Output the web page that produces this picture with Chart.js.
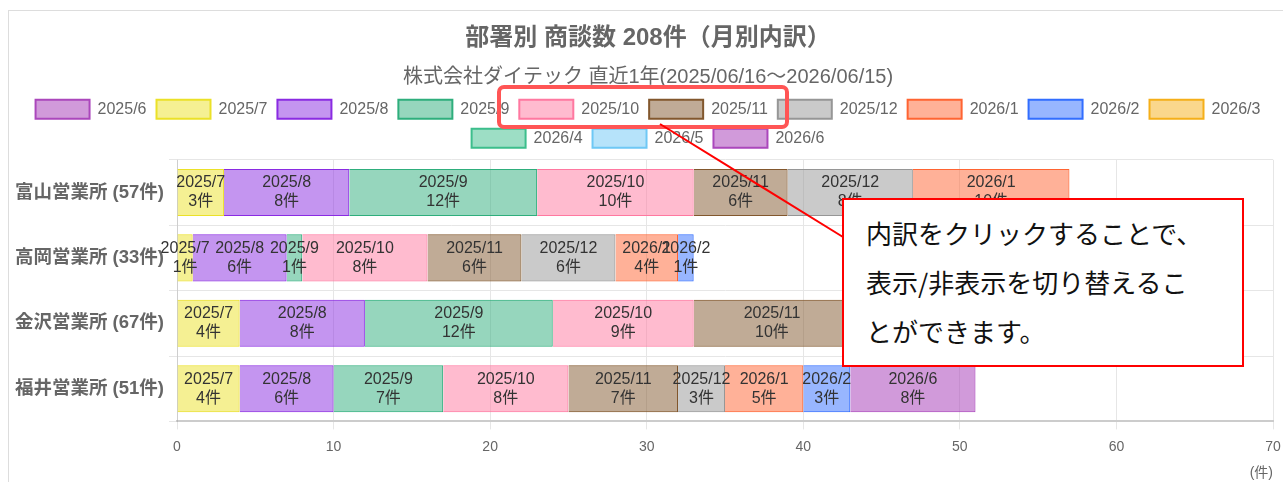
<!DOCTYPE html>
<html lang="ja">
<head>
    <meta charset="UTF-8">
    <title>部署別 商談数</title>
    <script src="https://cdn.jsdelivr.net/npm/chart.js"></script>
    <style>
        body {
            margin: 0;
            width: 1283px;
            height: 482px;
            overflow: hidden;
            background: #fff;
            position: relative;
            font-family: Arial, 'Noto Sans CJK JP', sans-serif;
        }
        .card {
            position: absolute;
            left: 8px;
            top: 10px;
            width: 1300px;
            height: 500px;
            border: 1px solid #ddd;
        }
        #salesChart {
            position: absolute;
            left: 9px;
            top: 11px;
        }
        /* 凡例の強調枠 */
        .mark {
            position: absolute;
            left: 497px;
            top: 85px;
            width: 284px;
            height: 36px;
            border: 4px solid #f55;
            border-radius: 7px;
        }
        .link {
            position: absolute;
            left: 0;
            top: 0;
        }
        .note {
            position: absolute;
            left: 842px;
            top: 198px;
            width: 376px;
            height: 157px;
            padding: 8px 0 0 22px;
            border: 2px solid #f00;
            background: #fff;
            font-family: 'Noto Sans CJK JP', sans-serif;
            font-size: 26px;
            line-height: 49px;
            color: #111;
            white-space: nowrap;
        }
    </style>
</head>
<body>

    <div class="card"></div>
    <canvas id="salesChart" width="1274" height="471"></canvas>

    <div class="mark"></div>
    <svg class="link" width="1283" height="482">
        <line x1="660" y1="124" x2="843" y2="237" stroke="#f00" stroke-width="2"/>
    </svg>
    <div class="note">内訳をクリックすることで、<br>表示/非表示を切り替えるこ<br>とができます。</div>

    <script>
        // 営業所
        const offices = ['富山営業所 (57件)', '高岡営業所 (33件)', '金沢営業所 (67件)', '福井営業所 (51件)'];
        const months = ['2025/6', '2025/7', '2025/8', '2025/9', '2025/10', '2025/11', '2025/12',
                        '2026/1', '2026/2', '2026/3', '2026/4', '2026/5', '2026/6'];

        // 月別件数 (2025/6 〜 2026/6)
        const toyama   = [0, 3, 8, 12, 10, 6, 8, 10, 0, 0, 0, 0, 0];
        const takaoka  = [0, 1, 6, 1, 8, 6, 6, 4, 1, 0, 0, 0, 0];
        const kanazawa = [0, 4, 8, 12, 9, 10, 7, 9, 3, 2, 0, 0, 3];
        const fukui    = [0, 4, 6, 7, 8, 7, 3, 5, 3, 0, 0, 0, 8];

        const fills = ['rgba(171,71,188,0.55)', 'rgba(235,225,40,0.5)', 'rgba(138,43,226,0.5)', 'rgba(46,174,124,0.5)',
                       'rgba(255,120,160,0.5)', 'rgba(130,87,45,0.5)', 'rgba(150,150,150,0.5)', 'rgba(255,100,50,0.5)',
                       'rgba(50,110,255,0.5)', 'rgba(245,175,25,0.5)', 'rgba(60,190,140,0.5)', 'rgba(110,200,245,0.5)',
                       'rgba(171,71,188,0.55)'];
        const borders = ['rgb(171,71,188)', 'rgb(235,225,40)', 'rgb(138,43,226)', 'rgb(46,174,124)',
                         'rgb(255,120,160)', 'rgb(130,87,45)', 'rgb(150,150,150)', 'rgb(255,100,50)',
                         'rgb(50,110,255)', 'rgb(245,175,25)', 'rgb(60,190,140)', 'rgb(110,200,245)',
                         'rgb(171,71,188)'];

        const FONT = "Arial, 'Noto Sans CJK JP', sans-serif";

        const datasets = months.map((m, i) => ({
            label: m,
            data: [toyama[i], takaoka[i], kanazawa[i], fukui[i]].map(v => v || null),
            backgroundColor: fills[i],
            borderColor: borders[i],
            borderWidth: 1
        }));

        // 各区間に「月 / 件数」を描く
        const segmentLabels = {
            id: 'segmentLabels',
            afterDatasetsDraw(chart) {
                const ctx = chart.ctx;
                ctx.save();
                ctx.font = '16px ' + FONT;
                ctx.fillStyle = '#333';
                ctx.textAlign = 'center';
                ctx.textBaseline = 'middle';
                chart.data.datasets.forEach((ds, i) => {
                    if (!chart.isDatasetVisible(i)) return;
                    chart.getDatasetMeta(i).data.forEach((bar, j) => {
                        const v = ds.data[j];
                        if (!v) return;
                        const cx = (bar.x + bar.base) / 2;
                        ctx.fillText(ds.label, cx, bar.y - 9.5);
                        ctx.fillText(v + '件', cx, bar.y + 9.5);
                    });
                });
                ctx.restore();
            }
        };

        // 凡例の下に少し余白を足す
        const legendGap = {
            id: 'legendGap',
            afterInit(chart) {
                const fit = chart.legend.fit;
                chart.legend.fit = function () {
                    fit.call(this);
                    this.height += 2;
                };
            }
        };

        new Chart(document.getElementById('salesChart'), {
            type: 'bar',
            data: { labels: offices, datasets: datasets },
            plugins: [segmentLabels, legendGap],
            options: {
                indexAxis: 'y',
                responsive: false,
                animation: false,
                layout: { padding: { left: 14, right: 10, top: 0, bottom: 0 } },
                scales: {
                    x: {
                        stacked: true,
                        min: 0,
                        max: 70,
                        ticks: { stepSize: 10, color: '#666', font: { size: 14, family: FONT }, padding: 9 },
                        grid: { color: '#e6e6e6' },
                        border: { color: '#ccc', width: 2 },
                        title: { display: true, text: '(件)', align: 'end', color: '#666', font: { size: 14, family: FONT }, padding: { top: 1, bottom: 0 } },
                        afterFit(scale) { scale.paddingRight = 0; }
                    },
                    y: {
                        stacked: true,
                        ticks: { color: '#666', font: { size: 18.5, weight: 'bold', family: FONT }, padding: 5 },
                        grid: { color: '#e6e6e6' },
                        afterFit(scale) {
                            scale.width = 154;
                            // ラベルが左余白にはみ出しても切らない
                            scale._computeLabelArea = () => undefined;
                        }
                    }
                },
                plugins: {
                    title: {
                        display: true,
                        text: '部署別 商談数 208件（月別内訳）',
                        color: '#666',
                        font: { size: 24, weight: 'bold', family: FONT },
                        padding: { top: 13, bottom: 7 }
                    },
                    subtitle: {
                        display: true,
                        text: '株式会社ダイテック 直近1年(2025/06/16～2026/06/15)',
                        color: '#666',
                        font: { size: 20, family: FONT },
                        padding: { top: 6, bottom: 0 }
                    },
                    legend: {
                        position: 'top',
                        labels: {
                            color: '#666',
                            font: { size: 16, family: FONT },
                            boxWidth: 54,
                            boxHeight: 19,
                            padding: 10,
                            generateLabels(chart) {
                                const items = Chart.defaults.plugins.legend.labels.generateLabels(chart);
                                items.forEach(it => { it.lineWidth = 2; });
                                return items;
                            }
                        }
                    },
                    tooltip: { enabled: false }
                }
            }
        });
    </script>

</body>
</html>
